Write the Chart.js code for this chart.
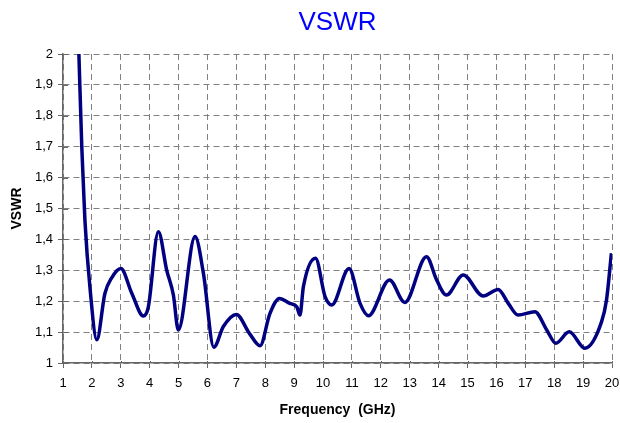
<!DOCTYPE html>
<html>
<head>
<meta charset="utf-8">
<script src="https://cdn.jsdelivr.net/npm/chart.js@4/dist/chart.umd.min.js"></script>
<style>
  body { margin: 0; background: #fff; }
  canvas { display: block; }
</style>
</head>
<body>
<canvas id="chart" width="620" height="423"></canvas>
<script>
// frequency (GHz) and VSWR
const freq = [1.55, 1.65, 1.70, 1.76, 1.93, 2.17, 2.45, 2.68, 3.0, 3.38, 3.78, 3.95, 4.30, 4.59, 4.82, 4.99,
    5.57, 5.86, 6.22, 6.55, 7.0, 7.45, 7.82, 8.16, 8.49, 8.85, 9.09, 9.20, 9.32, 9.74, 10.07, 10.30,
    10.90, 11.28, 11.57, 12.30, 12.83, 13.58, 13.93, 14.27, 14.85, 15.54, 16.06, 16.41, 16.75, 17.33,
    17.74, 18.06, 18.52, 19.06, 19.64, 19.81, 19.98];
const vswr = [2.0, 1.70, 1.59, 1.46, 1.247, 1.075, 1.225, 1.275, 1.306, 1.226, 1.152, 1.18, 1.425, 1.30, 1.22, 1.107,
    1.409, 1.29, 1.051, 1.118, 1.157, 1.096, 1.056, 1.16, 1.209, 1.193, 1.182, 1.155, 1.247, 1.339, 1.215, 1.188,
    1.306, 1.193, 1.153, 1.269, 1.196, 1.344, 1.269, 1.22, 1.285, 1.217, 1.238, 1.193, 1.155, 1.166,
    1.107, 1.064, 1.101, 1.048, 1.134, 1.204, 1.355];

const yTickLabels = ["1", "1,1", "1,2", "1,3", "1,4", "1,5", "1,6", "1,7", "1,8", "1,9", "2"];
const xTickLabels = ["1", "2", "3", "4", "5", "6", "7", "8", "9", "10", "11", "12", "13", "14", "15", "16", "17", "18", "19", "20"];
const chartTitle = "VSWR";

const FONT = "'Liberation Sans', Arial, sans-serif";
const axisColor = "#666666";
const gridColor = "#808080";

// Excel-style ticks crossing the axis, and the title centred over the plot
const extras = {
    id: "extras",
    afterDraw: function(chart) {
        const ctx = chart.ctx;
        const area = chart.chartArea;
        ctx.save();
        ctx.strokeStyle = axisColor;
        ctx.lineWidth = 1;
        chart.scales.y.ticks.forEach((t, i) => {
            const py = Math.round(chart.scales.y.getPixelForTick(i)) + 0.5;
            ctx.beginPath();
            ctx.moveTo(area.left, py);
            ctx.lineTo(area.left + 5, py);
            ctx.stroke();
        });
        chart.scales.x.ticks.forEach((t, i) => {
            const px = Math.round(chart.scales.x.getPixelForTick(i)) + 0.5;
            ctx.beginPath();
            ctx.moveTo(px, area.bottom);
            ctx.lineTo(px, area.bottom - 2);
            ctx.stroke();
        });
        ctx.fillStyle = "#0000FF";
        ctx.font = "26px " + FONT;
        ctx.textAlign = "center";
        ctx.textBaseline = "middle";
        ctx.fillText(chartTitle, (area.left + area.right) / 2, 23);
        ctx.restore();
    }
};

const points = freq.map((f, i) => ({ x: f, y: vswr[i] }));

new Chart(document.getElementById("chart"), {
    type: "line",
    data: {
        datasets: [{
            label: "VSWR",
            data: points,
            borderColor: "#000080",
            borderWidth: 3.5,
            pointRadius: 0,
            cubicInterpolationMode: "monotone",
            fill: false
        }]
    },
    options: {
        responsive: false,
        animation: false,
        layout: { padding: { left: 0, right: 0, top: 54, bottom: 0 } },
        plugins: {
            legend: { display: false },
            tooltip: { enabled: false },
            title: { display: false }
        },
        scales: {
            x: {
                type: "linear",
                min: 1,
                max: 20,
                afterFit: function(scale) {
                    scale.height = 60;
                    scale.paddingLeft = 0;
                    scale.paddingRight = 8;
                },
                ticks: {
                    stepSize: 1,
                    color: "#000",
                    padding: 8,
                    maxRotation: 0,
                    font: { family: FONT, size: 13 },
                    callback: (v, i) => xTickLabels[i]
                },
                grid: {
                    color: gridColor,
                    lineWidth: 1,
                    drawTicks: true,
                    tickLength: 5,
                    tickColor: axisColor,
                    tickBorderDash: []
                },
                border: { display: true, color: axisColor, width: 1.5, dash: [6, 4] },
                title: {
                    display: true,
                    text: "Frequency  (GHz)",
                    color: "#000",
                    font: { family: FONT, size: 14, weight: "bold", lineHeight: 1.2 },
                    padding: { top: 0, bottom: 4.6 }
                }
            },
            y: {
                min: 1,
                max: 2,
                afterFit: function(scale) { scale.width = 63; },
                ticks: {
                    stepSize: 0.1,
                    color: "#000",
                    padding: 5,
                    font: { family: FONT, size: 13 },
                    callback: (v, i) => yTickLabels[i]
                },
                grid: {
                    color: gridColor,
                    lineWidth: 1,
                    drawTicks: true,
                    tickLength: 5,
                    tickColor: axisColor,
                    tickBorderDash: []
                },
                border: { display: true, color: axisColor, width: 1.5, dash: [6, 4] },
                title: {
                    display: true,
                    text: "VSWR",
                    color: "#000",
                    font: { family: FONT, size: 14, weight: "bold", lineHeight: 1.2 },
                    padding: { top: 9, bottom: 0 }
                }
            }
        }
    },
    plugins: [extras]
});
</script>
</body>
</html>
